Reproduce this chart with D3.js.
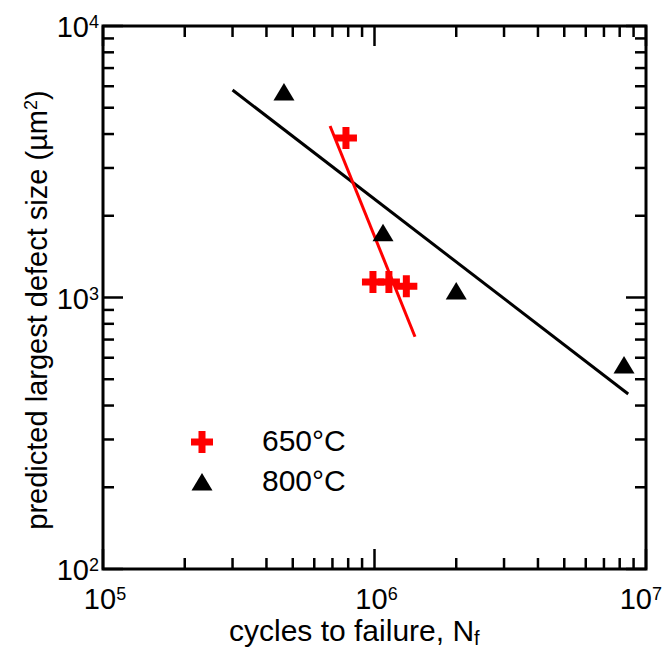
<!DOCTYPE html>
<html>
<head>
<meta charset="utf-8">
<script src="https://d3js.org/d3.v7.min.js"></script>
<style>
  body { margin: 0; background: #fff; }
  text { font-family: "Liberation Sans", Arial, sans-serif; fill: #000; }
</style>
</head>
<body>
<svg id="chart" width="665" height="649"></svg>
<script>
// data
const cycles650 = [7.85e5, 9.87e5, 1.13e6, 1.31e6];
const defect650 = [3870, 1140, 1140, 1100];
const cycles800 = [4.64e5, 1.075e6, 2.0e6, 8.3e6];
const defect800 = [5710, 1730, 1057, 564];
// power-law fit lines (end points)
const fitCycles650 = [6.86e5, 1.41e6];
const fitDefect650 = [4280, 717];
const fitCycles800 = [3.0e5, 8.6e6];
const fitDefect800 = [5810, 441];
const xTickExp = [5, 6, 7];
const yTickExp = [2, 3, 4];
const legendLabels = ['650°C', '800°C'];

const margin = {left: 103, top: 26};
const width = 543, height = 543;

const svg = d3.select('#chart');
const g = svg.append('g').attr('transform', 'translate(' + margin.left + ',' + margin.top + ')');

const x = d3.scaleLog().domain([1e5, 1e7]).range([0, width]);
const y = d3.scaleLog().domain([1e2, 1e4]).range([height, 0]);

// tick positions: majors and minors
const minor = (lo, hi) => {
  let out = [];
  for (let e = lo; e < hi; e++) {
    for (let k = 2; k <= 9; k++) out.push(k * Math.pow(10, e));
  }
  return out;
};
const xMinor = minor(5, 7);
const yMinor = minor(2, 4);
const majLen = 20, minLen = 11;

const ticks = g.append('g').attr('stroke', '#000').attr('stroke-width', 2.5);
function vTicks(vals, len) {
  vals.forEach(v => {
    ticks.append('line').attr('x1', x(v)).attr('x2', x(v)).attr('y1', height).attr('y2', height - len);
    ticks.append('line').attr('x1', x(v)).attr('x2', x(v)).attr('y1', 0).attr('y2', len);
  });
}
function hTicks(vals, len) {
  vals.forEach(v => {
    ticks.append('line').attr('y1', y(v)).attr('y2', y(v)).attr('x1', 0).attr('x2', len);
    ticks.append('line').attr('y1', y(v)).attr('y2', y(v)).attr('x1', width).attr('x2', width - len);
  });
}
vTicks(xMinor, minLen);
vTicks(xTickExp.map(e => Math.pow(10, e)), majLen);
hTicks(yMinor, minLen);
hTicks(yTickExp.map(e => Math.pow(10, e)), majLen);

g.append('rect')
  .attr('width', width).attr('height', height)
  .attr('fill', 'none').attr('stroke', '#000').attr('stroke-width', 3);

// tick labels
const fs = 29, sup = 18;
xTickExp.forEach((e, i) => {
  const last = i === xTickExp.length - 1;
  const t = g.append('text')
    .attr('x', last ? x(Math.pow(10, e)) + 16 : x(Math.pow(10, e)) + 2)
    .attr('y', height + 40)
    .attr('text-anchor', last ? 'end' : 'middle')
    .style('font-size', fs + 'px');
  t.append('tspan').text('10');
  t.append('tspan').attr('dy', -9).style('font-size', sup + 'px').text(e);
});
yTickExp.forEach(e => {
  const t = g.append('text')
    .attr('x', -4)
    .attr('y', y(Math.pow(10, e)) + 11)
    .attr('text-anchor', 'end')
    .style('font-size', fs + 'px');
  t.append('tspan').text('10');
  t.append('tspan').attr('dy', -9).style('font-size', sup + 'px').text(e);
});

// axis titles
const xt = svg.append('text')
  .attr('x', 229).attr('y', 641)
  .style('font-size', '30px');
xt.append('tspan').text('cycles to failure, N');
xt.append('tspan').attr('dy', 4).style('font-size', '20px').text('f');

const yt = svg.append('text')
  .attr('transform', 'translate(47,310) rotate(-90)')
  .attr('text-anchor', 'middle')
  .style('font-size', fs + 'px');
yt.append('tspan').text('predicted largest defect size (\u00b5m');
yt.append('tspan').attr('dy', -10).style('font-size', sup + 'px').text('2');
yt.append('tspan').attr('dy', 10).text(')');

// fit lines
const line = d3.line().x(d => x(d[0])).y(d => y(d[1]));
g.append('path')
  .datum(d3.zip(fitCycles800, fitDefect800))
  .attr('d', line).attr('fill', 'none').attr('stroke', '#000').attr('stroke-width', 3);
g.append('path')
  .datum(d3.zip(fitCycles650, fitDefect650))
  .attr('d', line).attr('fill', 'none').attr('stroke', '#ff0000').attr('stroke-width', 3);

// markers
const cross = 'M-11,-3.5H-3.5V-11H3.5V-3.5H11V3.5H3.5V11H-3.5V3.5H-11Z';
const tri = 'M0,-9L10.5,8.5H-10.5Z';

g.selectAll('.m800').data(d3.zip(cycles800, defect800)).join('path')
  .attr('class', 'm800')
  .attr('d', tri)
  .attr('transform', d => 'translate(' + x(d[0]) + ',' + y(d[1]) + ')')
  .attr('fill', '#000');
g.selectAll('.m650').data(d3.zip(cycles650, defect650)).join('path')
  .attr('class', 'm650')
  .attr('d', cross)
  .attr('transform', d => 'translate(' + x(d[0]) + ',' + y(d[1]) + ')')
  .attr('fill', '#ff0000');

// legend
const lg = svg.append('g');
const shapes = [cross, tri];
const colors = ['#ff0000', '#000'];
legendLabels.forEach((lab, i) => {
  const cy = 442 + i * 40;
  lg.append('path').attr('d', shapes[i])
    .attr('transform', 'translate(202,' + cy + ')')
    .attr('fill', colors[i]);
  lg.append('text')
    .attr('x', 262).attr('y', cy + 9)
    .style('font-size', '30px')
    .text(lab);
});
</script>
</body>
</html>
